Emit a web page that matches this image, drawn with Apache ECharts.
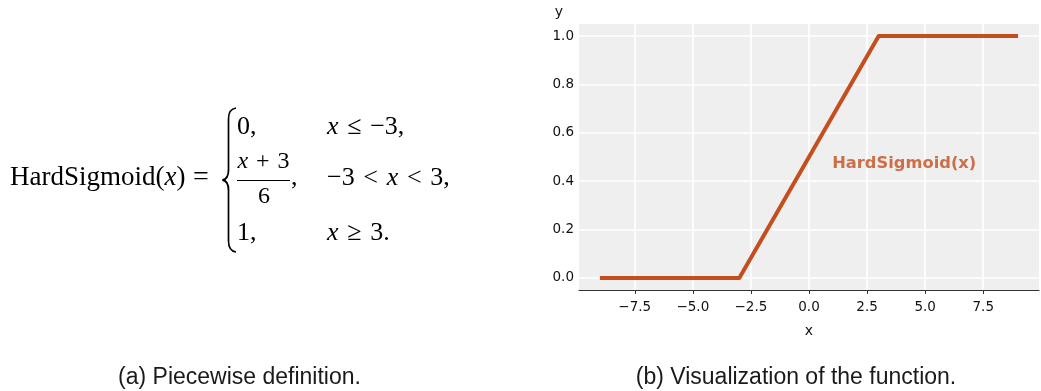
<!DOCTYPE html>
<html>
<head>
<meta charset="utf-8">
<title>HardSigmoid</title>
<script src="https://cdn.jsdelivr.net/npm/echarts@6/dist/echarts.min.js"></script>
<style>
  html, body { margin: 0; padding: 0; background: #ffffff; }
  #chart { width: 1041px; height: 391px; }
</style>
</head>
<body>
<div id="chart"></div>
<script>
// HardSigmoid(x) sampled at its breakpoints and the ends of the plotted range
const xValues = [-9, -3, 3, 9];
const yValues = [0, 0, 1, 1];

// tick positions shown on each axis
const xTicks = [-7.5, -5.0, -2.5, 0.0, 2.5, 5.0, 7.5];
const yTicks = [0.0, 0.2, 0.4, 0.6, 0.8, 1.0];

// axis ranges (data range plus a 5% margin)
const xRange = [-9.9, 9.9];
const yRange = [-0.05, 1.05];

// in-plot annotation and its anchor in data coordinates
const curveName = 'HardSigmoid(x)';
const curveLabelAt = [1.0, 0.47];

const captions = ['(a) Piecewise definition.', '(b) Visualization of the function.'];

const ORANGE = '#C34F1E';
const SERIF = '"Liberation Serif", "DejaVu Serif", serif';
const SANS_PLOT = '"DejaVu Sans", sans-serif';
const SANS_CAP = '"Liberation Sans", "DejaVu Sans", sans-serif';
const SP = '\u2004'; // math spacing around operators and relations

const minus = s => s.replace('-', '\u2212');

const chart = echarts.init(document.getElementById('chart'), null, { renderer: 'canvas' });

// math text helper: rich text with roman and italic runs
function mathText(x, y, parts, size, align) {
  return {
    type: 'text',
    x: x, y: y,
    style: {
      text: parts,
      textAlign: align || 'left',
      textVerticalAlign: 'middle',
      fill: '#000',
      rich: {
        r: { fontFamily: SERIF, fontSize: size, fill: '#000' },
        i: { fontFamily: SERIF, fontSize: size, fontStyle: 'italic', fill: '#000' }
      }
    },
    silent: true
  };
}

function stroke(type, shape, width) {
  return { type: type, shape: shape, style: { stroke: '#000', lineWidth: width, fill: null }, silent: true };
}

// left brace of the cases block, built from straight runs and quadratic hooks
const braceX = 228.5;
const brace = [
  stroke('bezierCurve', { x1: 236, y1: 108, cpx1: braceX, cpy1: 109, x2: braceX, y2: 119 }, 1.6),
  stroke('line', { x1: braceX, y1: 119, x2: braceX, y2: 170 }, 1.7),
  stroke('bezierCurve', { x1: braceX, y1: 170, cpx1: braceX, cpy1: 179, x2: 222.5, y2: 180 }, 1.8),
  stroke('bezierCurve', { x1: 222.5, y1: 180, cpx1: braceX, cpy1: 181, x2: braceX, y2: 190 }, 1.8),
  stroke('line', { x1: braceX, y1: 190, x2: braceX, y2: 241 }, 1.7),
  stroke('bezierCurve', { x1: braceX, y1: 241, cpx1: braceX, cpy1: 251, x2: 236, y2: 252 }, 1.6)
];

const formula = [
  mathText(10, 177.5, '{r|HardSigmoid(}{i|x}{r|)}', 27),
  mathText(193, 177.5, '{r|=}', 28),
  // row 1
  mathText(237, 127, '{r|0,}', 26),
  mathText(327, 127, '{i|x}{r|' + SP + '\u2264' + SP + '\u22123,}', 26),
  // row 2: fraction
  mathText(263.5, 162, '{i|x}{r|' + SP + '+' + SP + '3}', 24, 'center'),
  stroke('line', { x1: 237, y1: 180.5, x2: 290, y2: 180.5 }, 1.1),
  mathText(264, 197, '{r|6}', 24, 'center'),
  mathText(291, 178, '{r|,}', 26),
  mathText(327, 178, '{r|\u22123' + SP + '<' + SP + '}{i|x}{r|' + SP + '<' + SP + '3,}', 26),
  // row 3
  mathText(237, 233, '{r|1,}', 26),
  mathText(327, 233, '{i|x}{r|' + SP + '\u2265' + SP + '3.}', 26)
];

const captionText = captions.map((t, i) => ({
  type: 'text', x: [239.5, 796][i], y: 378,
  style: { text: t, font: '23px ' + SANS_CAP, fill: '#1a1a1a', textAlign: 'center', textVerticalAlign: 'middle' },
  silent: true
}));

const option = {
  animation: false,
  backgroundColor: '#ffffff',
  grid: {
    left: 579, right: 2, top: 24, bottom: 101,
    show: true, backgroundColor: '#EFEFEF', borderWidth: 0
  },
  xAxis: {
    type: 'value',
    min: xRange[0], max: xRange[1],
    name: 'x',
    nameLocation: 'middle',
    nameGap: 34,
    nameTextStyle: { fontFamily: SANS_PLOT, fontSize: 14, color: '#111' },
    axisLine: { show: true, onZero: false, lineStyle: { color: '#333', width: 1.2 } },
    axisTick: { show: true, length: 4, inside: false, customValues: xTicks, lineStyle: { color: '#333', width: 1 } },
    axisLabel: {
      customValues: xTicks, margin: 10,
      fontFamily: SANS_PLOT, fontSize: 13.5, color: '#111',
      formatter: v => minus(v.toFixed(1))
    },
    splitLine: { show: true, lineStyle: { color: '#ffffff', width: 1.6 } }
  },
  yAxis: {
    type: 'value',
    min: yRange[0], max: yRange[1],
    name: 'y',
    nameLocation: 'end',
    nameGap: 5,
    nameTextStyle: { fontFamily: SANS_PLOT, fontSize: 14, color: '#111', padding: [0, 40, 0, 0] },
    axisLine: { show: false, onZero: false },
    axisTick: { show: false, customValues: yTicks },
    axisLabel: {
      customValues: yTicks, margin: 5,
      fontFamily: SANS_PLOT, fontSize: 13.5, color: '#111',
      formatter: v => minus(v.toFixed(1))
    },
    splitLine: { show: true, lineStyle: { color: '#ffffff', width: 1.6 } }
  },
  series: [
    {
      type: 'line',
      name: curveName,
      data: xValues.map((x, i) => [x, yValues[i]]),
      showSymbol: false,
      lineStyle: { color: ORANGE, width: 4, cap: 'butt', join: 'round' },
      z: 3
    },
    {
      type: 'scatter',
      data: [curveLabelAt],
      symbolSize: 0,
      silent: true,
      label: {
        show: true,
        position: 'right',
        distance: 0,
        formatter: curveName,
        fontFamily: SANS_PLOT,
        fontWeight: 'bold',
        fontSize: 16.3,
        color: ORANGE
      },
      z: 4
    }
  ],
  graphic: brace.concat(formula, captionText)
};

chart.setOption(option);
</script>
</body>
</html>
